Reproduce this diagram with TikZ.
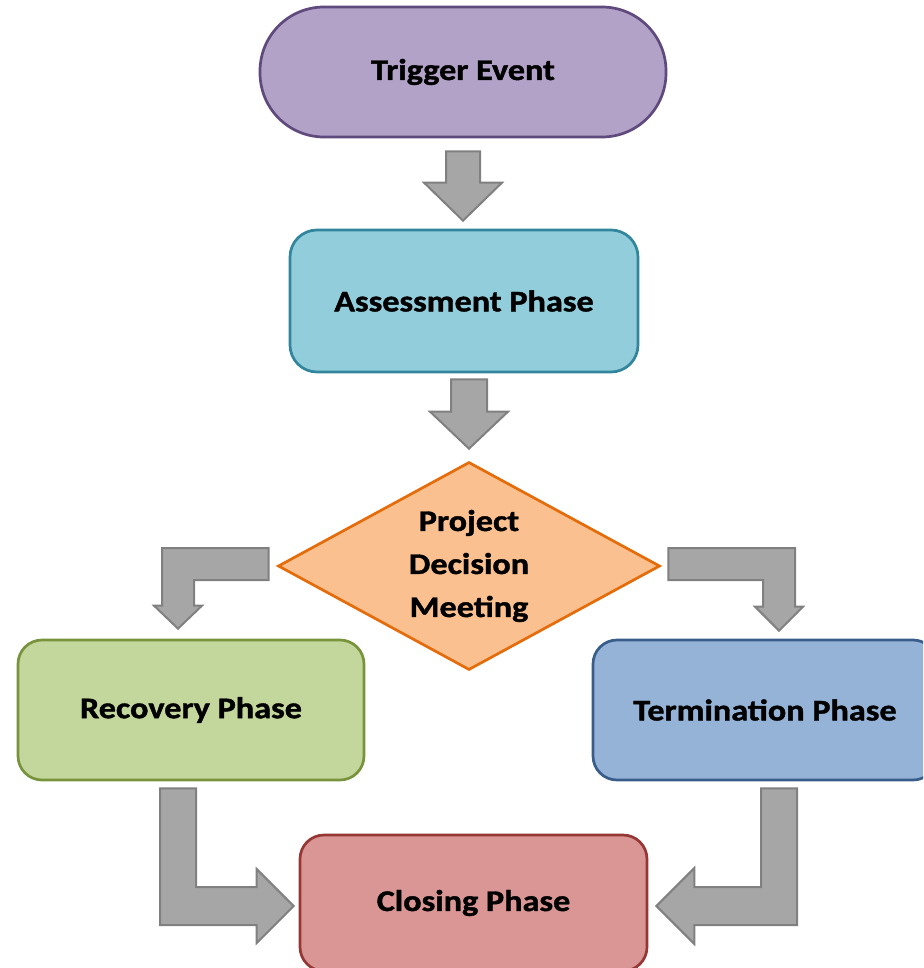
\documentclass[tikz,border=0pt]{standalone}
\usepackage{fontspec}
\setmainfont{Carlito}
\newfontfamily\lblfont{Carlito}[BoldFeatures={FakeStretch=1.14,FakeBold=1.3}]
\usetikzlibrary{shapes.geometric,calc}
\definecolor{purpfill}{HTML}{B3A2C7}
\definecolor{purpline}{HTML}{5F4A7D}
\definecolor{bluefill}{HTML}{92CDDC}
\definecolor{blueline}{HTML}{31859C}
\definecolor{orfill}{HTML}{FAC090}
\definecolor{orline}{HTML}{E46C0A}
\definecolor{grfill}{HTML}{C3D69B}
\definecolor{grline}{HTML}{77933C}
\definecolor{tefill}{HTML}{95B3D7}
\definecolor{teline}{HTML}{385D8A}
\definecolor{clfill}{HTML}{D99694}
\definecolor{clline}{HTML}{953735}
\definecolor{arfill}{HTML}{A6A6A6}
\definecolor{arline}{HTML}{808080}
\tikzset{
  lbl/.style={font=\lblfont\fontsize{30}{43}\selectfont\bfseries, text=black, align=center, line width=2.7pt, inner sep=0pt},
  boxnode/.style={lbl, rectangle, rounded corners=24pt},
  blockarrow/.style={fill=arfill, draw=arline, line width=2pt, line join=miter},
}
\begin{document}
\begin{tikzpicture}[x=1pt,y=-1pt]
\useasboundingbox (0,0) rectangle (923,968);
\clip (0,0) rectangle (923,968);
% nodes
\node[lbl, rectangle, rounded corners=64pt, fill=purpfill, draw=purpline, minimum width=406pt, minimum height=130pt] (trigger) at (463,72) {Trigger Event};
\node[boxnode, rounded corners=27pt, fill=bluefill, draw=blueline, minimum width=348pt, minimum height=142pt] (assess) at (464,301) {Assessment Phase};
\node[lbl, diamond, fill=orfill, draw=orline, minimum width=382pt, minimum height=208pt, aspect=1.84] (decision) at (469,566) {Project\\Decision\\Meeting};
\node[boxnode, fill=grfill, draw=grline, minimum width=346pt, minimum height=140pt] (recovery) at (191,710) {Recovery Phase};
\node[boxnode, fill=tefill, draw=teline, minimum width=344pt, minimum height=140pt] (termination) at (765,710) {Termination Phase};
\node[boxnode, fill=clfill, draw=clline, minimum width=347pt, minimum height=136pt] (closing) at (473.5,903) {Closing Phase};
% down arrow 1
\coordinate (D1top) at ($(trigger.south)+(0,13)$);
\coordinate (D1tip) at ($(D1top |- assess.north)+(0,-8)$);
\draw[blockarrow] ($(D1top)+(-17,0)$) -- ($(D1top)+(17,0)$) -- ($(D1tip)+(17,-38)$) -- ($(D1tip)+(39,-38)$) -- (D1tip) -- ($(D1tip)+(-39,-38)$) -- ($(D1tip)+(-17,-38)$) -- cycle;
% down arrow 2
\coordinate (D2top) at ($(decision.north |- assess.south)+(0,6)$);
\coordinate (D2tip) at ($(decision.north)+(0,-12)$);
\draw[blockarrow] ($(D2top)+(-18,0)$) -- ($(D2top)+(18,0)$) -- ($(D2tip)+(18,-37)$) -- ($(D2tip)+(39,-37)$) -- (D2tip) -- ($(D2tip)+(-39,-37)$) -- ($(D2tip)+(-18,-37)$) -- cycle;
% left bent arrow
\coordinate (Ltop) at ($(decision.west)+(-8,-18)$);
\coordinate (Ltip) at ($(recovery.north)+(-13,-10)$);
\draw[blockarrow] (Ltop) -- ($(Ltip |- Ltop)+(-16,0)$) -- ($(Ltip)+(-16,-23)$) -- ($(Ltip)+(-24,-23)$) -- (Ltip) -- ($(Ltip)+(24,-23)$) -- ($(Ltip)+(16,-23)$) -- ($(Ltip |- Ltop)+(16,32)$) -- ($(Ltop)+(0,32)$) -- cycle;
% right bent arrow
\coordinate (Rtop) at ($(decision.east)+(7,-18)$);
\coordinate (Rtip) at ($(termination.north)+(14,-8)$);
\draw[blockarrow] (Rtop) -- ($(Rtip |- Rtop)+(16,0)$) -- ($(Rtip)+(16,-24)$) -- ($(Rtip)+(24,-24)$) -- (Rtip) -- ($(Rtip)+(-24,-24)$) -- ($(Rtip)+(-16,-24)$) -- ($(Rtip |- Rtop)+(-16,32)$) -- ($(Rtop)+(0,32)$) -- cycle;
% bottom-left bent arrow
\coordinate (BLtop) at ($(recovery.south)+(-13,7)$);
\coordinate (BLtip) at ($(closing.west)+(-5,3)$);
\draw[blockarrow] ($(BLtop)+(-18,0)$) -- ($(BLtop)+(18,0)$) -- ($(BLtop |- BLtip)+(18,-19)$) -- ($(BLtip)+(-37,-19)$) -- ($(BLtip)+(-37,-37)$) -- (BLtip) -- ($(BLtip)+(-37,37)$) -- ($(BLtip)+(-37,19)$) -- ($(BLtop |- BLtip)+(-18,19)$) -- cycle;
% bottom-right bent arrow
\coordinate (BRtop) at ($(termination.south)+(14,7)$);
\coordinate (BRtip) at ($(closing.east)+(8,3)$);
\draw[blockarrow] ($(BRtop)+(18,0)$) -- ($(BRtop)+(-18,0)$) -- ($(BRtop |- BRtip)+(-18,-19)$) -- ($(BRtip)+(38,-19)$) -- ($(BRtip)+(38,-38)$) -- (BRtip) -- ($(BRtip)+(38,38)$) -- ($(BRtip)+(38,19)$) -- ($(BRtop |- BRtip)+(18,19)$) -- cycle;
\end{tikzpicture}
\end{document}
